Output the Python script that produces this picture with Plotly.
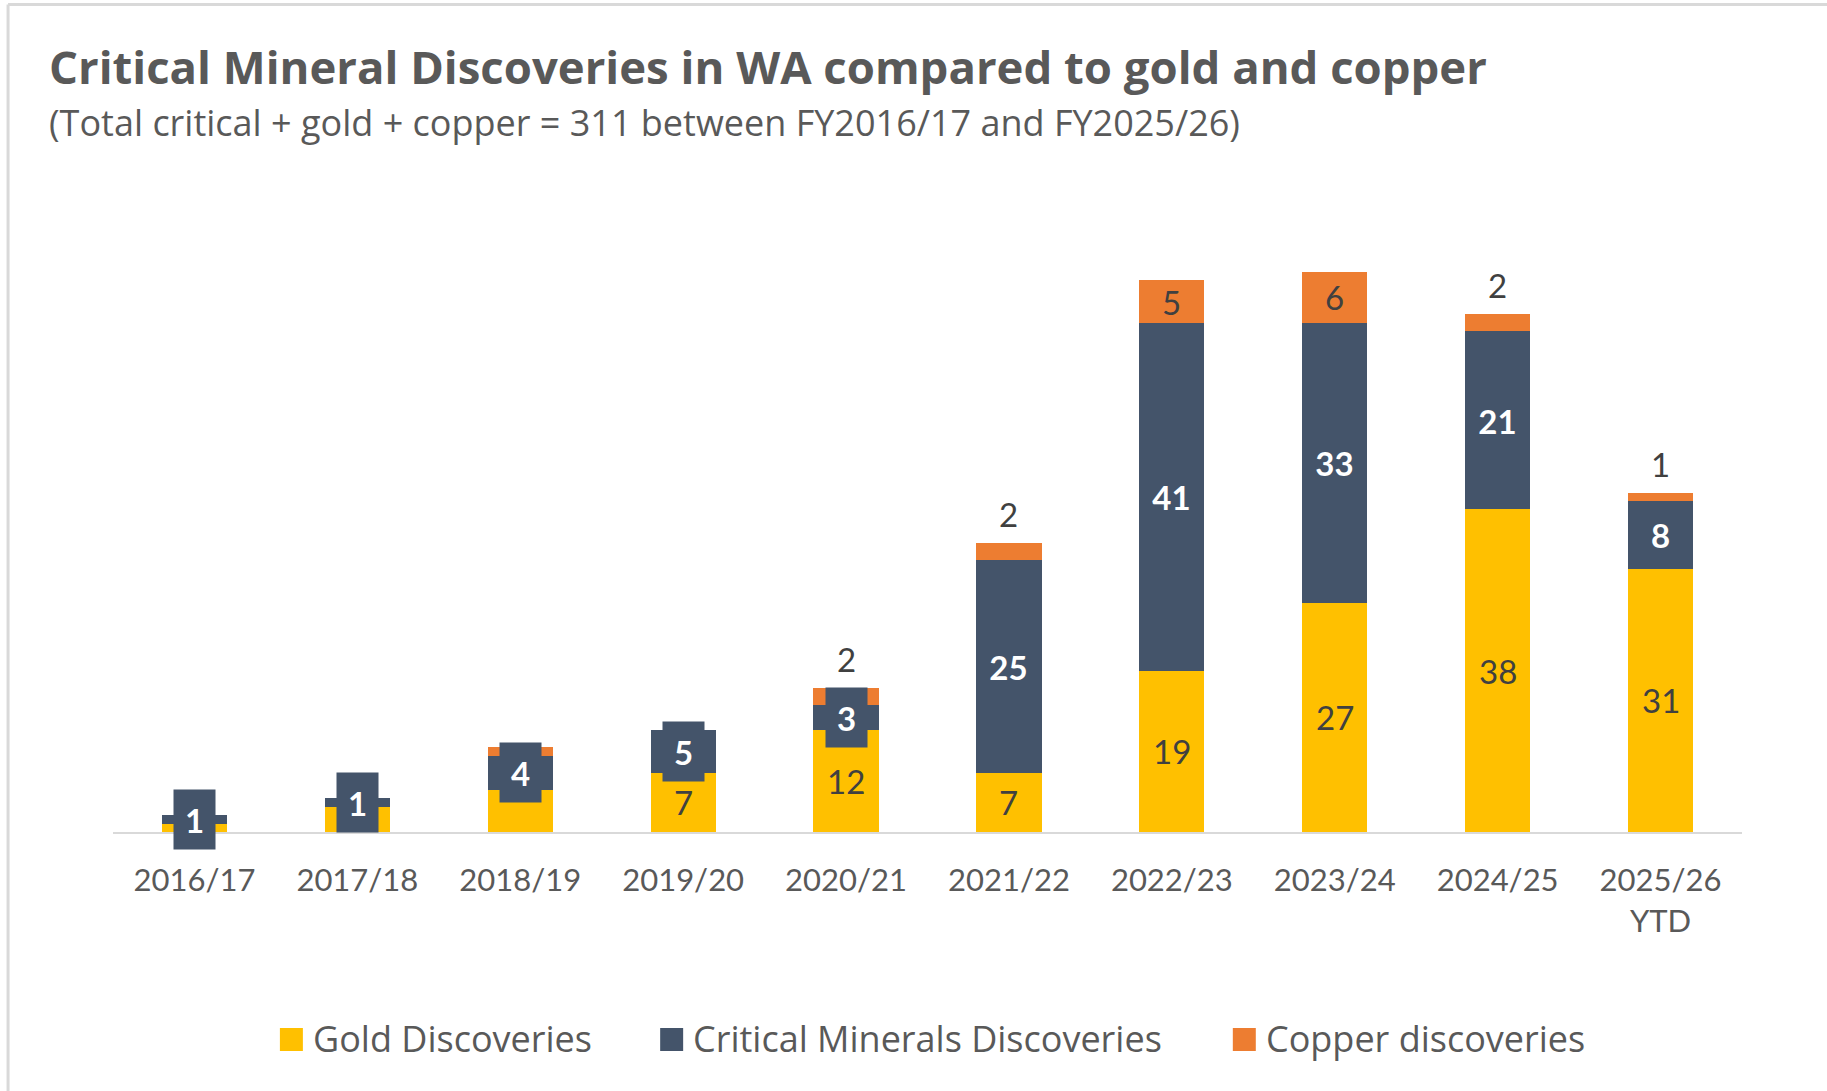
import plotly.graph_objects as go

# Discoveries per financial year
years = ["2016/17", "2017/18", "2018/19", "2019/20", "2020/21",
         "2021/22", "2022/23", "2023/24", "2024/25", "2025/26 YTD"]
tick_text = ["2016/17", "2017/18", "2018/19", "2019/20", "2020/21",
             "2021/22", "2022/23", "2023/24", "2024/25", "2025/26<br>YTD"]
gold = [1, 3, 5, 7, 12, 7, 19, 27, 38, 31]
critical = [1, 1, 4, 5, 3, 25, 41, 33, 21, 8]
copper = [0, 0, 1, 0, 2, 2, 5, 6, 2, 1]

# which copper labels sit inside the segment (others go above the bar)
copper_inside = [False, False, False, False, False, False, True, True, False, False]
# labels left off the smallest segments
gold_hidden = [True, True, True, False, False, False, False, False, False, False]
copper_hidden = [True, True, True, True, False, False, False, False, False, False]

GOLD = "#FFC000"
SLATE = "#44546A"
ORANGE = "#ED7D31"
GREY_TXT = "#595959"
LABEL_TXT = "#404040"
FONT = "Lato"
HEAD_FONT = "Open Sans"

W, H = 1827, 1091
L, R, T, B = 112.5, 1742.5, 170, 832


def px_x(px):
    return (px - L) / (R - L)


def px_y(py):
    return (B - py) / (B - T)


fig = go.Figure()
fig.add_trace(go.Bar(x=years, y=gold, name="Gold Discoveries",
                     marker=dict(color=GOLD, line=dict(width=0))))
fig.add_trace(go.Bar(x=years, y=critical, name="Critical Minerals Discoveries",
                     marker=dict(color=SLATE, line=dict(width=0))))
fig.add_trace(go.Bar(x=years, y=copper, name="Copper discoveries",
                     marker=dict(color=ORANGE, line=dict(width=0))))

annotations = []
for i, yr in enumerate(years):
    g, c, cu = gold[i], critical[i], copper[i]
    if not gold_hidden[i]:
        annotations.append(dict(x=yr, y=g / 2, xref="x", yref="y", text=str(g),
                                showarrow=False, yanchor="middle",
                                font=dict(family=FONT, size=33, color=LABEL_TXT)))
    annotations.append(dict(x=yr, y=g + c / 2, xref="x", yref="y",
                            text="<b>%d</b>" % c, showarrow=False,
                            yanchor="middle", bgcolor=SLATE, borderpad=0,
                            width=41, height=59,
                            font=dict(family=FONT, size=33, color="white")))
    if not copper_hidden[i]:
        if copper_inside[i]:
            annotations.append(dict(x=yr, y=g + c + cu / 2, xref="x", yref="y",
                                    text=str(cu), showarrow=False, yanchor="middle",
                                    font=dict(family=FONT, size=33, color=LABEL_TXT)))
        else:
            annotations.append(dict(x=yr, y=g + c + cu, xref="x", yref="y",
                                    text=str(cu), showarrow=False, yanchor="middle",
                                    yshift=29,
                                    font=dict(family=FONT, size=33, color=LABEL_TXT)))

# title and subtitle
annotations.append(dict(x=px_x(46), y=px_y(66), xref="paper", yref="paper",
                        text="<b>Critical Mineral Discoveries in WA compared to gold and copper</b>",
                        showarrow=False, xanchor="left", yanchor="middle",
                        font=dict(family=HEAD_FONT, size=45.5, color=GREY_TXT)))
annotations.append(dict(x=px_x(46), y=px_y(123), xref="paper", yref="paper",
                        text="(Total critical + gold + copper = 311 between FY2016/17 and FY2025/26)",
                        showarrow=False, xanchor="left", yanchor="middle",
                        font=dict(family=HEAD_FONT, size=36, color=GREY_TXT)))

# legend drawn by hand so the swatches can be sized
legend_items = [("Gold Discoveries", GOLD, 279.5, 311),
                ("Critical Minerals Discoveries", SLATE, 660, 691),
                ("Copper discoveries", ORANGE, 1233, 1264)]
shapes = []
for name, col, sx, tx in legend_items:
    shapes.append(dict(type="rect", xref="paper", yref="paper",
                       x0=px_x(sx), x1=px_x(sx + 23), y0=px_y(1051), y1=px_y(1028),
                       fillcolor=col, line=dict(width=0)))
    annotations.append(dict(x=px_x(tx), y=px_y(1038), xref="paper", yref="paper",
                            text=name, showarrow=False, xanchor="left", yanchor="middle",
                            font=dict(family=HEAD_FONT, size=36, color=GREY_TXT)))

# chart frame (top and left edges)
shapes.append(dict(type="line", xref="paper", yref="paper",
                   x0=px_x(7.5), x1=px_x(W + 5), y0=px_y(4.5), y1=px_y(4.5),
                   line=dict(color="#D9D9D9", width=3)))
shapes.append(dict(type="line", xref="paper", yref="paper",
                   x0=px_x(7.5), x1=px_x(7.5), y0=px_y(4.5), y1=px_y(H + 5),
                   line=dict(color="#D9D9D9", width=3)))

fig.update_layout(
    barmode="stack",
    bargap=0.6,
    width=W, height=H,
    margin=dict(l=L, r=W - R, t=T, b=H - B, pad=0),
    paper_bgcolor="white",
    plot_bgcolor="white",
    showlegend=False,
    annotations=annotations,
    shapes=shapes,
    xaxis=dict(
        tickmode="array", tickvals=years, ticktext=tick_text,
        showline=True, linecolor="#D9D9D9", linewidth=2,
        ticks="", showgrid=False, zeroline=False,
        ticklabelstandoff=20,
        tickfont=dict(family=FONT, size=31, color=GREY_TXT),
    ),
    yaxis=dict(range=[0, 78], visible=False, showgrid=False, zeroline=False),
)

fig.write_html("out.html", config={"displayModeBar": False})
